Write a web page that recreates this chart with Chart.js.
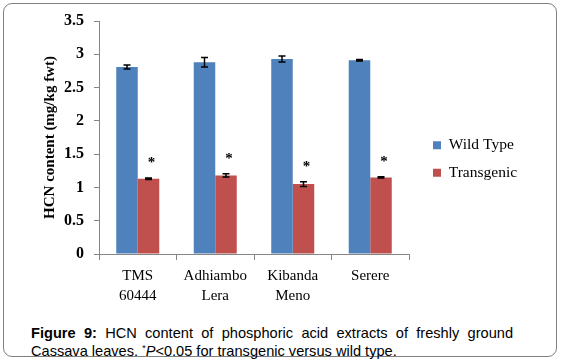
<!DOCTYPE html>
<html>
<head>
<meta charset="utf-8">
<script src="https://cdn.jsdelivr.net/npm/chart.js@4"></script>
<style>
  html, body { margin: 0; padding: 0; background: #fff; }
  #wrap { position: relative; width: 562px; height: 360px; overflow: hidden; }
  #frame { position: absolute; left: 3px; top: 3px; width: 554px; height: 354px; box-sizing: border-box;
           border: 1.5px solid #808080; border-radius: 9px; }
  #chart { position: absolute; left: 0; top: 0; }
  #caption { position: absolute; left: 31px; top: 324px; width: 482px; color: #000;
             font-family: 'Liberation Sans', Arial, sans-serif; font-size: 14.6px; line-height: 18px; }
  #caption .l1 { text-align: justify; text-align-last: justify; white-space: nowrap; }
  #caption .star { position: relative; top: -5px; font-size: 9px; }
</style>
</head>
<body>
<div id="wrap">
  <div id="frame"></div>
  <canvas id="chart" width="562" height="318"></canvas>
  <div id="caption">
    <div class="l1"><b>Figure 9:</b> HCN content of phosphoric acid extracts of freshly ground</div>
    <div>Cassava leaves. <span class="star">*</span><i>P</i>&lt;0.05 for transgenic versus wild type.</div>
  </div>
</div>
<script>
// values
const categories = [['TMS', '60444'], ['Adhiambo', 'Lera'], ['Kibanda', 'Meno'], ['Serere']]
const wildType = [2.81, 2.88, 2.93, 2.91]
const wildTypeErr = [0.03, 0.07, 0.045, 0.01]
const transgenic = [1.13, 1.18, 1.05, 1.15]
const transgenicErr = [0.01, 0.025, 0.035, 0.01]
const signif = ['*', '*', '*', '*']
const yTickValues = [0, 0.5, 1, 1.5, 2, 2.5, 3, 3.5]
const yTickLabels = ['0', '0.5', '1', '1.5', '2', '2.5', '3', '3.5']

const SERIF = '"Liberation Serif", "Times New Roman", serif'
const AXIS_GREY = '#868686'

// error bars + significance stars
const errorBars = {
    id: 'errorBars',
    afterDatasetsDraw(chart) {
        const ctx = chart.ctx
        const y = chart.scales.y
        const errs = [wildTypeErr, transgenicErr]
        ctx.save()
        ctx.strokeStyle = '#000'
        ctx.lineWidth = 1.5
        chart.data.datasets.forEach((ds, d) => {
            chart.getDatasetMeta(d).data.forEach((bar, i) => {
                const top = y.getPixelForValue(ds.data[i] + errs[d][i])
                const bot = y.getPixelForValue(ds.data[i] - errs[d][i])
                ctx.beginPath()
                ctx.moveTo(bar.x, top); ctx.lineTo(bar.x, bot)
                ctx.moveTo(bar.x - 3.5, top); ctx.lineTo(bar.x + 3.5, top)
                ctx.moveTo(bar.x - 3.5, bot); ctx.lineTo(bar.x + 3.5, bot)
                ctx.stroke()
            })
        })
        ctx.fillStyle = '#000'
        ctx.font = 'bold 15px ' + SERIF
        ctx.textAlign = 'center'
        ctx.textBaseline = 'middle'
        chart.getDatasetMeta(1).data.forEach((bar, i) => {
            const top = y.getPixelForValue(transgenic[i] + transgenicErr[i])
            ctx.fillText(signif[i], bar.x + 3, top - 15)
        })
        ctx.restore()
    }
}

const chart = new Chart(document.getElementById('chart'), {
    type: 'bar',
    data: {
        labels: categories,
        datasets: [{
            label: 'Wild Type',
            data: wildType,
            backgroundColor: '#4F81BD'
        }, {
            label: 'Transgenic',
            data: transgenic,
            backgroundColor: '#C0504D'
        }]
    },
    options: {
        responsive: false,
        animation: false,
        categoryPercentage: 0.555,
        barPercentage: 1,
        layout: { padding: { top: 21, left: 0, right: 41, bottom: 0 } },
        plugins: {
            tooltip: { enabled: false },
            legend: {
                position: 'right',
                align: 'start',
                maxWidth: 100,
                title: { display: true, text: '', font: { size: 10 }, padding: { top: 0, bottom: 92.5 } },
                labels: {
                    boxWidth: 8,
                    boxHeight: 8,
                    padding: 12,
                    color: '#000',
                    font: { family: SERIF, size: 15.5 }
                }
            }
        },
        scales: {
            x: {
                grid: { drawOnChartArea: false, tickLength: 6, color: AXIS_GREY },
                border: { color: AXIS_GREY },
                ticks: { color: '#000', padding: 7, font: { family: SERIF, size: 15, lineHeight: 1.27 } },
                afterFit: s => { s.height = 64 }
            },
            y: {
                min: 0,
                max: 3.5,
                afterBuildTicks: s => { s.ticks = yTickValues.map(v => ({ value: v })) },
                grid: { drawOnChartArea: false, tickLength: 5, color: AXIS_GREY },
                border: { color: AXIS_GREY },
                ticks: {
                    color: '#000',
                    padding: 10,
                    font: { family: SERIF, size: 16, weight: 'bold' },
                    callback: (v, i) => yTickLabels[i]
                },
                title: {
                    display: true,
                    text: 'HCN content (mg/kg fwt)',
                    color: '#000',
                    padding: { top: 41, bottom: 0 },
                    font: { family: SERIF, size: 15, weight: 'bold' }
                },
                afterFit: s => { s.width = 99 }
            },
            y1: {
                position: 'right',
                grid: { display: false },
                border: { display: false },
                ticks: { display: false },
                afterFit: s => { s.width = 12 }
            }
        }
    },
    plugins: [errorBars]
})
</script>
</body>
</html>
